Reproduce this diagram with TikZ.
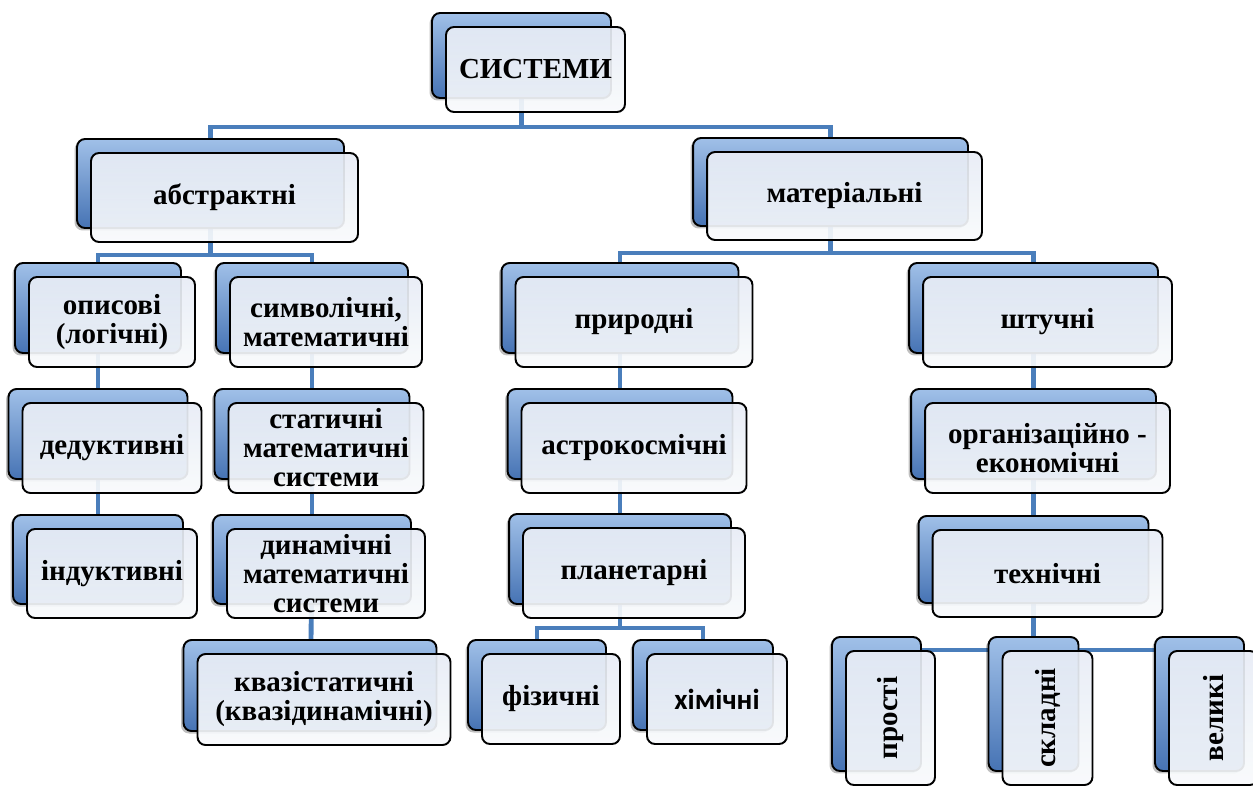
\documentclass[tikz,border=0pt]{standalone}
\usepackage{fontspec}
\setmainfont{Liberation Serif}
\newfontfamily\calibri{Carlito}
\usetikzlibrary{shadows,backgrounds}
\definecolor{linkblue}{RGB}{74,126,187}
\definecolor{backtop}{RGB}{160,192,232}
\definecolor{backbot}{RGB}{70,115,180}
\definecolor{fronttop}{RGB}{231,236,245}
\definecolor{frontbot}{RGB}{248,250,252}
\tikzset{font=\fontsize{16.5}{16.5}\selectfont\bfseries}
\tikzset{sysbox/.style={draw=black, line width=1.1pt, rounded corners=0.16cm,
    top color=fronttop, bottom color=frontbot, fill opacity=0.92, text opacity=1,
    align=center, inner sep=0pt,
    general shadow={shadow xshift=-0.33cm, shadow yshift=0.23cm, fill=black,
      fill opacity=0.25},
    general shadow={shadow xshift=-0.28cm, shadow yshift=0.28cm, draw=black,
      line width=1.1pt, fill opacity=1, top color=backtop, bottom color=backbot}}}
\tikzset{link/.style={draw=linkblue, line width=2.8pt}}

\begin{document}
\begin{tikzpicture}[x=0.02cm,y=-0.02cm]
  \useasboundingbox (0,0) rectangle (1253,787);

  % top levels
  \node[sysbox, minimum width=3.58cm, minimum height=1.70cm] (sys) at (535.5,69.5) {СИСТЕМИ};
  \node[sysbox, minimum width=5.34cm, minimum height=1.78cm] (abs) at (224.5,197.5) {абстрактні};
  \node[sysbox, minimum width=5.50cm, minimum height=1.76cm] (mat) at (844.5,196) {матеріальні};

  % abstract branch
  \node[sysbox, minimum width=3.32cm, minimum height=1.80cm] (opys) at (112,322) {описові\\(логічні)};
  \node[sysbox, minimum width=3.58cm, minimum height=1.80cm] (ded) at (112,448) {дедуктивні};
  \node[sysbox, minimum width=3.40cm, minimum height=1.78cm] (ind) at (112,573.5) {індуктивні};
  \node[sysbox, minimum width=3.84cm, minimum height=1.80cm] (symv) at (326,322) {символічні,\\математичні};
  \node[sysbox, minimum width=3.90cm, minimum height=1.80cm] (stat) at (326,448) {статичні\\математичні\\системи};
  \node[sysbox, minimum width=3.96cm, minimum height=1.78cm] (dyn) at (326,573.5) {динамічні\\математичні\\системи};
  \node[sysbox, minimum width=5.06cm, minimum height=1.82cm] (kvazi) at (324,699.5) {квазістатичні\\(квазідинамічні)};

  % material branch
  \node[sysbox, minimum width=4.74cm, minimum height=1.80cm] (pryr) at (634,322) {природні};
  \node[sysbox, minimum width=4.50cm, minimum height=1.80cm] (astro) at (634,448) {астрокосмічні};
  \node[sysbox, minimum width=4.44cm, minimum height=1.80cm] (plan) at (634,573) {планетарні};
  \node[sysbox, minimum width=2.76cm, minimum height=1.80cm] (fiz) at (551,699) {фізичні};
  \node[sysbox, minimum width=2.80cm, minimum height=1.80cm] (khim) at (717,699) {\calibri хімічні};
  \node[sysbox, minimum width=4.98cm, minimum height=1.80cm] (shtuch) at (1047.5,322) {штучні};
  \node[sysbox, minimum width=4.90cm, minimum height=1.80cm] (org) at (1047.5,448) {організаційно -\\економічні};
  \node[sysbox, minimum width=4.60cm, minimum height=1.74cm] (tekh) at (1047.5,573.5) {технічні};
  \node[sysbox, minimum width=1.78cm, minimum height=2.68cm] (prost) at (890.5,718) {\rotatebox{90}{прості}};
  \node[sysbox, minimum width=1.80cm, minimum height=2.68cm] (sklad) at (1047.5,718) {\rotatebox{90}{складні}};
  \node[sysbox, minimum width=1.78cm, minimum height=2.68cm] (velyk) at (1213.5,718) {\rotatebox{90}{великі}};

  % connectors
  \begin{scope}[on background layer]
    \draw[link] ([xshift=-0.28cm]sys.center) -- ++(0,57.5) -| ([xshift=-0.28cm]abs.center);
    \draw[link] ([xshift=-0.28cm]sys.center) -- ++(0,57.5) -| ([xshift=-0.28cm]mat.center);
    \draw[link] ([xshift=-0.28cm]abs.center) -- ++(0,57.5) -| ([xshift=-0.28cm]opys.center);
    \draw[link] ([xshift=-0.28cm]abs.center) -- ++(0,57.5) -| ([xshift=-0.28cm]symv.center);
    \draw[link] ([xshift=-0.28cm]mat.center) -- ++(0,57) -| ([xshift=-0.28cm]pryr.center);
    \draw[link] ([xshift=-0.28cm]mat.center) -- ++(0,57) -| ([xshift=-0.28cm]shtuch.center);
    \draw[link] ([xshift=-0.28cm]opys.center) -- ([xshift=-0.28cm]ded.center);
    \draw[link] ([xshift=-0.28cm]ded.center) -- ([xshift=-0.28cm]ind.center);
    \draw[link] ([xshift=-0.28cm]symv.center) -- ([xshift=-0.28cm]stat.center);
    \draw[link] ([xshift=-0.28cm]stat.center) -- ([xshift=-0.28cm]dyn.center);
    \draw[link] ([xshift=-0.28cm]dyn.center) -- ([xshift=-0.28cm]kvazi.center);
    \draw[link] ([xshift=-0.28cm]pryr.center) -- ([xshift=-0.28cm]astro.center);
    \draw[link] ([xshift=-0.28cm]astro.center) -- ([xshift=-0.28cm]plan.center);
    \draw[link] ([xshift=-0.28cm]plan.center) -- ++(0,55) -| ([xshift=-0.28cm]fiz.center);
    \draw[link] ([xshift=-0.28cm]plan.center) -- ++(0,55) -| ([xshift=-0.28cm]khim.center);
    \draw[link] ([xshift=-0.28cm]shtuch.center) -- ([xshift=-0.28cm]org.center);
    \draw[link] ([xshift=-0.28cm]org.center) -- ([xshift=-0.28cm]tekh.center);
    \draw[link] ([xshift=-0.28cm]tekh.center) -- ([xshift=-0.28cm]sklad.center);
    \draw[link] ([xshift=-0.28cm]tekh.center) -- ++(0,76.5) -| ([xshift=-0.28cm]prost.center);
    \draw[link] ([xshift=-0.28cm]tekh.center) -- ++(0,76.5) -| ([xshift=-0.28cm]velyk.center);
  \end{scope}
\end{tikzpicture}
\end{document}
